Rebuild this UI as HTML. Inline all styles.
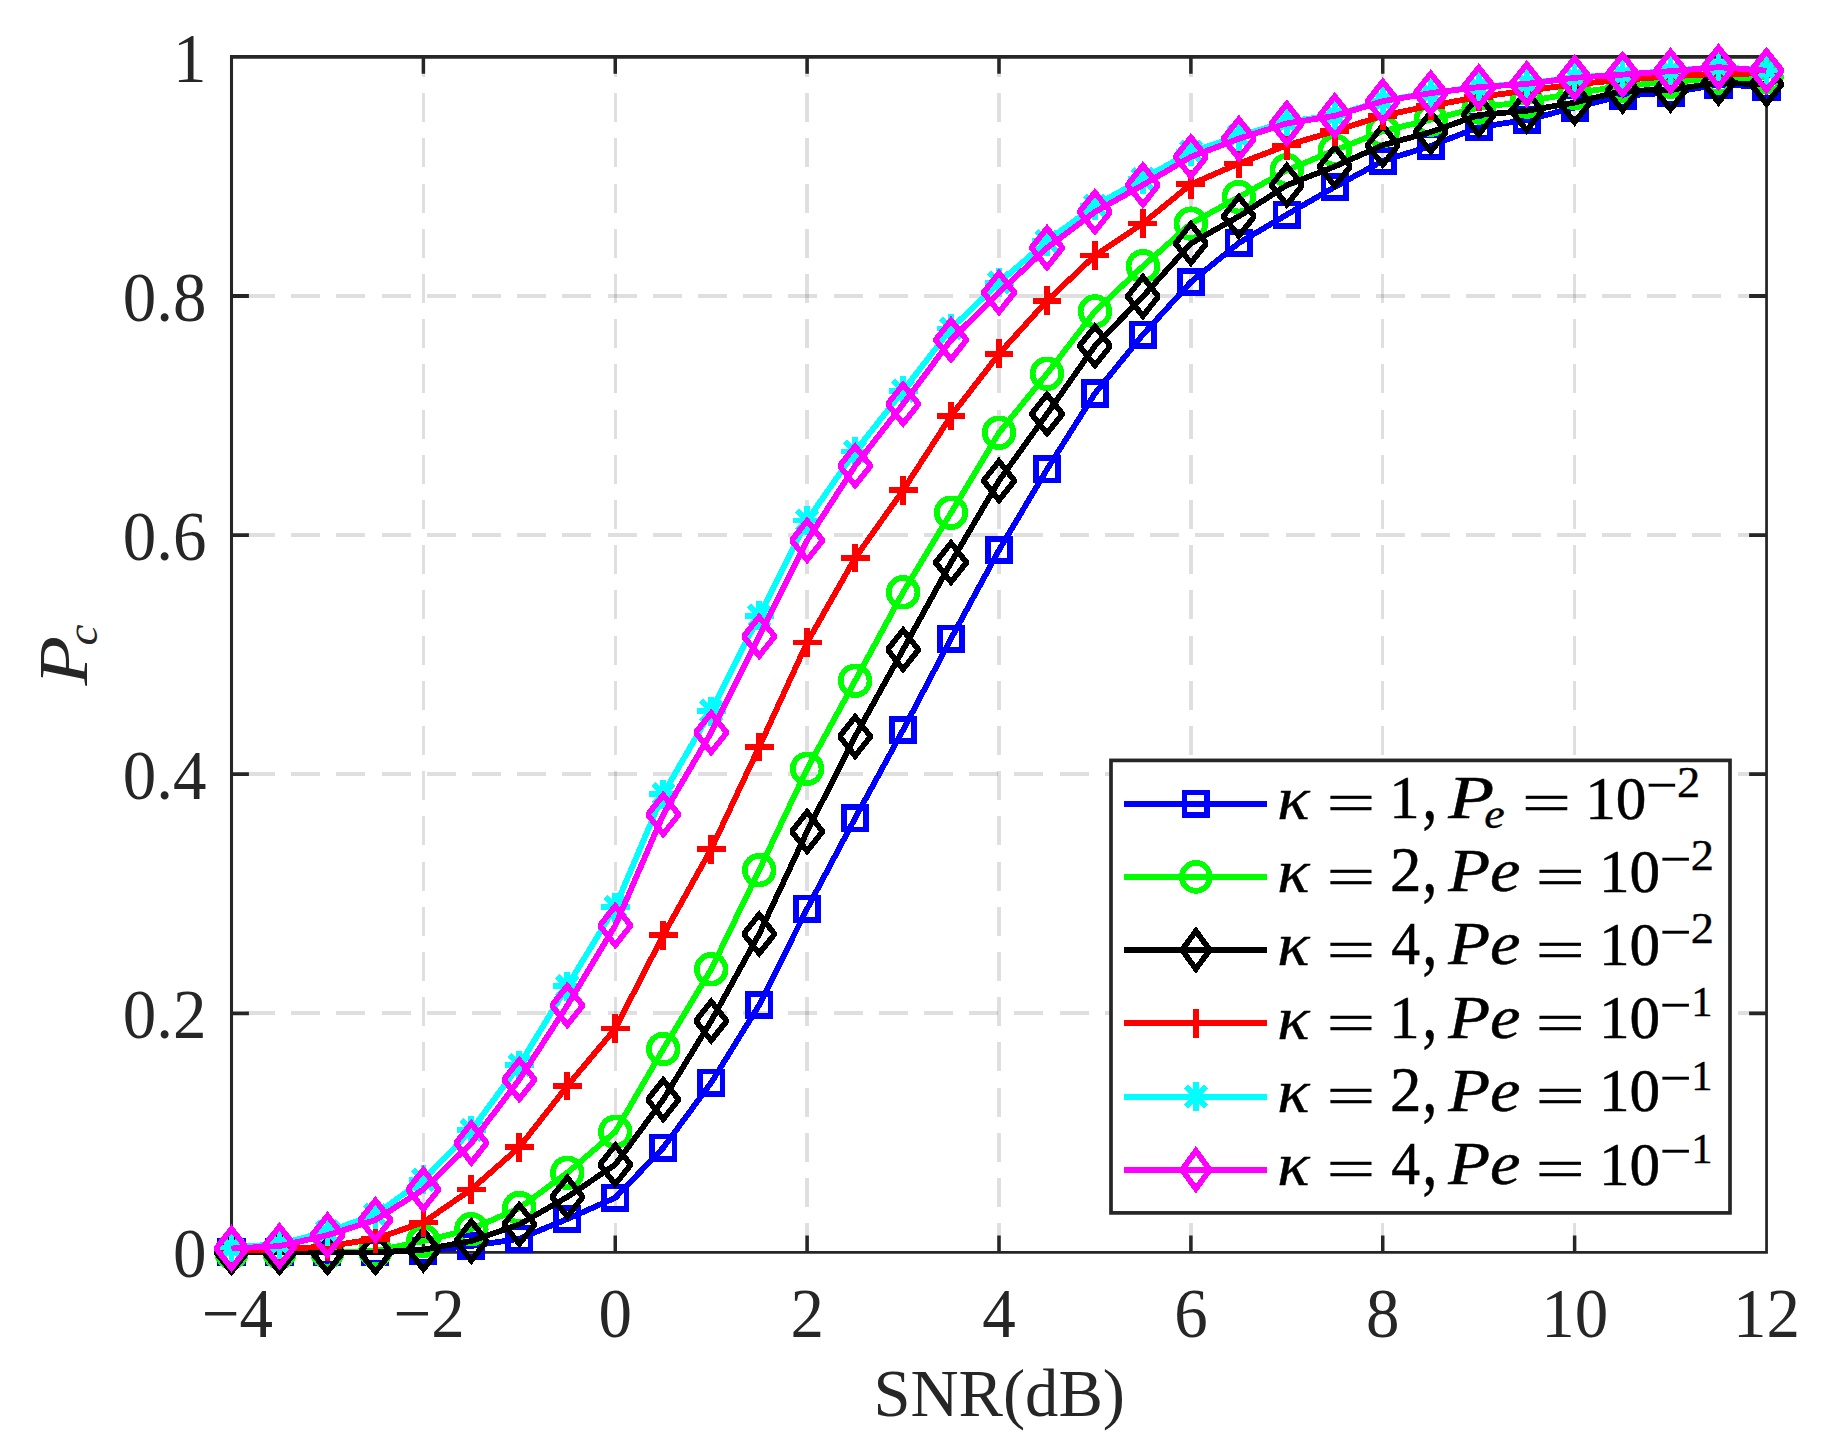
<!DOCTYPE html>
<html lang="en"><head><meta charset="utf-8"><title>Pc versus SNR</title>
<style>html,body{margin:0;padding:0;background:#fff}body{width:1826px;height:1451px;overflow:hidden}svg{display:block}.t{font-family:"Liberation Serif","DejaVu Serif",serif;fill:#262626}.m{font-family:"Liberation Serif","DejaVu Serif",serif;fill:#000}.i{font-style:italic}</style></head><body>
<svg width="1826" height="1451" viewBox="0 0 1826 1451">
<rect width="1826" height="1451" fill="#fff"/>
<g stroke="#262626" stroke-opacity="0.15" fill="none" stroke-dasharray="29 16.2" shape-rendering="crispEdges">
<line x1="423.38" y1="56.9" x2="423.38" y2="1252.4" stroke-width="3.3" stroke-dashoffset="8.9"/>
<line x1="615.25" y1="56.9" x2="615.25" y2="1252.4" stroke-width="3.3" stroke-dashoffset="8.9"/>
<line x1="807.12" y1="56.9" x2="807.12" y2="1252.4" stroke-width="3.3" stroke-dashoffset="8.9"/>
<line x1="999" y1="56.9" x2="999" y2="1252.4" stroke-width="3.3" stroke-dashoffset="8.9"/>
<line x1="1190.88" y1="56.9" x2="1190.88" y2="1252.4" stroke-width="3.3" stroke-dashoffset="8.9"/>
<line x1="1382.75" y1="56.9" x2="1382.75" y2="1252.4" stroke-width="3.3" stroke-dashoffset="8.9"/>
<line x1="1574.62" y1="56.9" x2="1574.62" y2="1252.4" stroke-width="3.3" stroke-dashoffset="8.9"/>
<line x1="231.5" y1="1013.3" x2="1766.5" y2="1013.3" stroke-width="3.7" stroke-dashoffset="30.7"/>
<line x1="231.5" y1="774.2" x2="1766.5" y2="774.2" stroke-width="3.7" stroke-dashoffset="30.7"/>
<line x1="231.5" y1="535.1" x2="1766.5" y2="535.1" stroke-width="3.7" stroke-dashoffset="30.7"/>
<line x1="231.5" y1="296" x2="1766.5" y2="296" stroke-width="3.7" stroke-dashoffset="30.7"/>
</g>
<g stroke="#262626" fill="none" stroke-linecap="butt">
<path d="M423.38 1252.4v-16.8M423.38 56.9v16.8M615.25 1252.4v-16.8M615.25 56.9v16.8M807.12 1252.4v-16.8M807.12 56.9v16.8M999 1252.4v-16.8M999 56.9v16.8M1190.88 1252.4v-16.8M1190.88 56.9v16.8M1382.75 1252.4v-16.8M1382.75 56.9v16.8M1574.62 1252.4v-16.8M1574.62 56.9v16.8" stroke-width="3.5"/>
<path d="M231.5 1013.3h17.400000000000002M1766.5 1013.3h-17.400000000000002M231.5 774.2h17.400000000000002M1766.5 774.2h-17.400000000000002M231.5 535.1h17.400000000000002M1766.5 535.1h-17.400000000000002M231.5 296h17.400000000000002M1766.5 296h-17.400000000000002" stroke-width="3.8"/>
<path d="M231.5 1252.4H1766.55V56.9" stroke-width="2.75" stroke-linejoin="miter"/>
<path d="M231.5 1253.8000000000002V56.9" stroke-width="3.07"/>
<path d="M229.97 56.9H1767.9" stroke-width="3.6"/>
</g>
<g stroke="#0000ff" fill="none" stroke-linejoin="round" shape-rendering="crispEdges">
<polyline points="231.5,1252.4 279.47,1252.4 327.44,1252.4 375.41,1252 423.38,1251 471.34,1246 519.31,1238.8 567.28,1219 615.25,1197.8 663.22,1147.8 711.19,1082.7 759.16,1005 807.12,908.7 855.09,818.2 903.06,730 951.03,638.6 999,550.1 1046.97,469.4 1094.94,393.5 1142.91,334.6 1190.88,282 1238.84,243 1286.81,214.6 1334.78,186.9 1382.75,160.9 1430.72,146 1478.69,127.1 1526.66,120 1574.62,107.5 1622.59,95.7 1670.56,92.6 1718.53,84.7 1766.5,86.6" stroke-width="5.8"/>
<g stroke-width="5.7" stroke-linejoin="miter">
<rect x="220.3" y="1241.2" width="22.4" height="22.4"/>
<rect x="268.27" y="1241.2" width="22.4" height="22.4"/>
<rect x="316.24" y="1241.2" width="22.4" height="22.4"/>
<rect x="364.21" y="1240.8" width="22.4" height="22.4"/>
<rect x="412.18" y="1239.8" width="22.4" height="22.4"/>
<rect x="460.14" y="1234.8" width="22.4" height="22.4"/>
<rect x="508.11" y="1227.6" width="22.4" height="22.4"/>
<rect x="556.08" y="1207.8" width="22.4" height="22.4"/>
<rect x="604.05" y="1186.6" width="22.4" height="22.4"/>
<rect x="652.02" y="1136.6" width="22.4" height="22.4"/>
<rect x="699.99" y="1071.5" width="22.4" height="22.4"/>
<rect x="747.96" y="993.8" width="22.4" height="22.4"/>
<rect x="795.92" y="897.5" width="22.4" height="22.4"/>
<rect x="843.89" y="807" width="22.4" height="22.4"/>
<rect x="891.86" y="718.8" width="22.4" height="22.4"/>
<rect x="939.83" y="627.4" width="22.4" height="22.4"/>
<rect x="987.8" y="538.9" width="22.4" height="22.4"/>
<rect x="1035.77" y="458.2" width="22.4" height="22.4"/>
<rect x="1083.74" y="382.3" width="22.4" height="22.4"/>
<rect x="1131.71" y="323.4" width="22.4" height="22.4"/>
<rect x="1179.67" y="270.8" width="22.4" height="22.4"/>
<rect x="1227.64" y="231.8" width="22.4" height="22.4"/>
<rect x="1275.61" y="203.4" width="22.4" height="22.4"/>
<rect x="1323.58" y="175.7" width="22.4" height="22.4"/>
<rect x="1371.55" y="149.7" width="22.4" height="22.4"/>
<rect x="1419.52" y="134.8" width="22.4" height="22.4"/>
<rect x="1467.49" y="115.9" width="22.4" height="22.4"/>
<rect x="1515.46" y="108.8" width="22.4" height="22.4"/>
<rect x="1563.42" y="96.3" width="22.4" height="22.4"/>
<rect x="1611.39" y="84.5" width="22.4" height="22.4"/>
<rect x="1659.36" y="81.4" width="22.4" height="22.4"/>
<rect x="1707.33" y="73.5" width="22.4" height="22.4"/>
<rect x="1755.3" y="75.4" width="22.4" height="22.4"/>
</g></g>
<g stroke="#00ff00" fill="none" stroke-linejoin="round" shape-rendering="crispEdges">
<polyline points="231.5,1252.4 279.47,1252.4 327.44,1252.2 375.41,1251 423.38,1241 471.34,1229.2 519.31,1208 567.28,1172.8 615.25,1131.8 663.22,1049 711.19,969.3 759.16,870.1 807.12,768.8 855.09,680.8 903.06,592.3 951.03,512.7 999,432.7 1046.97,373.7 1094.94,311.4 1142.91,266.3 1190.88,223.6 1238.84,197.1 1286.81,170.2 1334.78,150.4 1382.75,131.1 1430.72,119.7 1478.69,107.5 1526.66,101.6 1574.62,93.1 1622.59,86.1 1670.56,81.7 1718.53,78.2 1766.5,77.3" stroke-width="5.8"/>
<g stroke-width="5.7" stroke-linejoin="miter">
<circle cx="231.5" cy="1252.4" r="14.35"/>
<circle cx="279.47" cy="1252.4" r="14.35"/>
<circle cx="327.44" cy="1252.2" r="14.35"/>
<circle cx="375.41" cy="1251" r="14.35"/>
<circle cx="423.38" cy="1241" r="14.35"/>
<circle cx="471.34" cy="1229.2" r="14.35"/>
<circle cx="519.31" cy="1208" r="14.35"/>
<circle cx="567.28" cy="1172.8" r="14.35"/>
<circle cx="615.25" cy="1131.8" r="14.35"/>
<circle cx="663.22" cy="1049" r="14.35"/>
<circle cx="711.19" cy="969.3" r="14.35"/>
<circle cx="759.16" cy="870.1" r="14.35"/>
<circle cx="807.12" cy="768.8" r="14.35"/>
<circle cx="855.09" cy="680.8" r="14.35"/>
<circle cx="903.06" cy="592.3" r="14.35"/>
<circle cx="951.03" cy="512.7" r="14.35"/>
<circle cx="999" cy="432.7" r="14.35"/>
<circle cx="1046.97" cy="373.7" r="14.35"/>
<circle cx="1094.94" cy="311.4" r="14.35"/>
<circle cx="1142.91" cy="266.3" r="14.35"/>
<circle cx="1190.88" cy="223.6" r="14.35"/>
<circle cx="1238.84" cy="197.1" r="14.35"/>
<circle cx="1286.81" cy="170.2" r="14.35"/>
<circle cx="1334.78" cy="150.4" r="14.35"/>
<circle cx="1382.75" cy="131.1" r="14.35"/>
<circle cx="1430.72" cy="119.7" r="14.35"/>
<circle cx="1478.69" cy="107.5" r="14.35"/>
<circle cx="1526.66" cy="101.6" r="14.35"/>
<circle cx="1574.62" cy="93.1" r="14.35"/>
<circle cx="1622.59" cy="86.1" r="14.35"/>
<circle cx="1670.56" cy="81.7" r="14.35"/>
<circle cx="1718.53" cy="78.2" r="14.35"/>
<circle cx="1766.5" cy="77.3" r="14.35"/>
</g></g>
<g stroke="#000000" fill="none" stroke-linejoin="round" shape-rendering="crispEdges">
<polyline points="231.5,1252.4 279.47,1252.4 327.44,1252.4 375.41,1252.4 423.38,1249.7 471.34,1241 519.31,1224.4 567.28,1197 615.25,1164.7 663.22,1099.6 711.19,1021 759.16,934 807.12,831.5 855.09,736.5 903.06,649.7 951.03,562.5 999,480.7 1046.97,414 1094.94,345.9 1142.91,296.5 1190.88,243.4 1238.84,216.4 1286.81,185.2 1334.78,166.5 1382.75,145.2 1430.72,132 1478.69,115 1526.66,110.8 1574.62,102.6 1622.59,90.9 1670.56,89.8 1718.53,82.8 1766.5,84.3" stroke-width="5.8"/>
<g stroke-width="5.7" stroke-linejoin="miter">
<path d="M231.5 1232.9L246.2 1251.4V1253.4L231.5 1271.9L216.8 1253.4V1251.4Z"/>
<path d="M279.47 1232.9L294.17 1251.4V1253.4L279.47 1271.9L264.77 1253.4V1251.4Z"/>
<path d="M327.44 1232.9L342.14 1251.4V1253.4L327.44 1271.9L312.74 1253.4V1251.4Z"/>
<path d="M375.41 1232.9L390.11 1251.4V1253.4L375.41 1271.9L360.71 1253.4V1251.4Z"/>
<path d="M423.38 1230.2L438.07 1248.7V1250.7L423.38 1269.2L408.68 1250.7V1248.7Z"/>
<path d="M471.34 1221.5L486.04 1240V1242L471.34 1260.5L456.64 1242V1240Z"/>
<path d="M519.31 1204.9L534.01 1223.4V1225.4L519.31 1243.9L504.61 1225.4V1223.4Z"/>
<path d="M567.28 1177.5L581.98 1196V1198L567.28 1216.5L552.58 1198V1196Z"/>
<path d="M615.25 1145.2L629.95 1163.7V1165.7L615.25 1184.2L600.55 1165.7V1163.7Z"/>
<path d="M663.22 1080.1L677.92 1098.6V1100.6L663.22 1119.1L648.52 1100.6V1098.6Z"/>
<path d="M711.19 1001.5L725.89 1020V1022L711.19 1040.5L696.49 1022V1020Z"/>
<path d="M759.16 914.5L773.86 933V935L759.16 953.5L744.46 935V933Z"/>
<path d="M807.12 812L821.83 830.5V832.5L807.12 851L792.42 832.5V830.5Z"/>
<path d="M855.09 717L869.79 735.5V737.5L855.09 756L840.39 737.5V735.5Z"/>
<path d="M903.06 630.2L917.76 648.7V650.7L903.06 669.2L888.36 650.7V648.7Z"/>
<path d="M951.03 543L965.73 561.5V563.5L951.03 582L936.33 563.5V561.5Z"/>
<path d="M999 461.2L1013.7 479.7V481.7L999 500.2L984.3 481.7V479.7Z"/>
<path d="M1046.97 394.5L1061.67 413V415L1046.97 433.5L1032.27 415V413Z"/>
<path d="M1094.94 326.4L1109.64 344.9V346.9L1094.94 365.4L1080.24 346.9V344.9Z"/>
<path d="M1142.91 277L1157.61 295.5V297.5L1142.91 316L1128.21 297.5V295.5Z"/>
<path d="M1190.88 223.9L1205.58 242.4V244.4L1190.88 262.9L1176.17 244.4V242.4Z"/>
<path d="M1238.84 196.9L1253.54 215.4V217.4L1238.84 235.9L1224.14 217.4V215.4Z"/>
<path d="M1286.81 165.7L1301.51 184.2V186.2L1286.81 204.7L1272.11 186.2V184.2Z"/>
<path d="M1334.78 147L1349.48 165.5V167.5L1334.78 186L1320.08 167.5V165.5Z"/>
<path d="M1382.75 125.7L1397.45 144.2V146.2L1382.75 164.7L1368.05 146.2V144.2Z"/>
<path d="M1430.72 112.5L1445.42 131V133L1430.72 151.5L1416.02 133V131Z"/>
<path d="M1478.69 95.5L1493.39 114V116L1478.69 134.5L1463.99 116V114Z"/>
<path d="M1526.66 91.3L1541.36 109.8V111.8L1526.66 130.3L1511.96 111.8V109.8Z"/>
<path d="M1574.62 83.1L1589.33 101.6V103.6L1574.62 122.1L1559.92 103.6V101.6Z"/>
<path d="M1622.59 71.4L1637.29 89.9V91.9L1622.59 110.4L1607.89 91.9V89.9Z"/>
<path d="M1670.56 70.3L1685.26 88.8V90.8L1670.56 109.3L1655.86 90.8V88.8Z"/>
<path d="M1718.53 63.3L1733.23 81.8V83.8L1718.53 102.3L1703.83 83.8V81.8Z"/>
<path d="M1766.5 64.8L1781.2 83.3V85.3L1766.5 103.8L1751.8 85.3V83.3Z"/>
</g></g>
<g stroke="#ff0000" fill="none" stroke-linejoin="round" shape-rendering="crispEdges">
<polyline points="231.5,1251.2 279.47,1249.4 327.44,1246.4 375.41,1238.8 423.38,1222.4 471.34,1189.4 519.31,1147.2 567.28,1086 615.25,1028.6 663.22,935.2 711.19,849.1 759.16,747 807.12,642.5 855.09,558 903.06,490.3 951.03,416 999,353.9 1046.97,300.8 1094.94,255.5 1142.91,223.4 1190.88,184.3 1238.84,163.5 1286.81,145.4 1334.78,131.1 1382.75,115.7 1430.72,105.7 1478.69,97 1526.66,90.7 1574.62,84.3 1622.59,79.9 1670.56,76.4 1718.53,73.8 1766.5,73.5" stroke-width="5.8"/>
<g stroke-width="5.7" stroke-linejoin="miter">
<path d="M217.05 1251.2H245.95M231.5 1236.75V1265.65"/>
<path d="M265.02 1249.4H293.92M279.47 1234.95V1263.85"/>
<path d="M312.99 1246.4H341.89M327.44 1231.95V1260.85"/>
<path d="M360.96 1238.8H389.86M375.41 1224.35V1253.25"/>
<path d="M408.93 1222.4H437.82M423.38 1207.95V1236.85"/>
<path d="M456.89 1189.4H485.79M471.34 1174.95V1203.85"/>
<path d="M504.86 1147.2H533.76M519.31 1132.75V1161.65"/>
<path d="M552.83 1086H581.73M567.28 1071.55V1100.45"/>
<path d="M600.8 1028.6H629.7M615.25 1014.15V1043.05"/>
<path d="M648.77 935.2H677.67M663.22 920.75V949.65"/>
<path d="M696.74 849.1H725.64M711.19 834.65V863.55"/>
<path d="M744.71 747H773.61M759.16 732.55V761.45"/>
<path d="M792.67 642.5H821.58M807.12 628.05V656.95"/>
<path d="M840.64 558H869.54M855.09 543.55V572.45"/>
<path d="M888.61 490.3H917.51M903.06 475.85V504.75"/>
<path d="M936.58 416H965.48M951.03 401.55V430.45"/>
<path d="M984.55 353.9H1013.45M999 339.45V368.35"/>
<path d="M1032.52 300.8H1061.42M1046.97 286.35V315.25"/>
<path d="M1080.49 255.5H1109.39M1094.94 241.05V269.95"/>
<path d="M1128.46 223.4H1157.36M1142.91 208.95V237.85"/>
<path d="M1176.42 184.3H1205.33M1190.88 169.85V198.75"/>
<path d="M1224.39 163.5H1253.29M1238.84 149.05V177.95"/>
<path d="M1272.36 145.4H1301.26M1286.81 130.95V159.85"/>
<path d="M1320.33 131.1H1349.23M1334.78 116.65V145.55"/>
<path d="M1368.3 115.7H1397.2M1382.75 101.25V130.15"/>
<path d="M1416.27 105.7H1445.17M1430.72 91.25V120.15"/>
<path d="M1464.24 97H1493.14M1478.69 82.55V111.45"/>
<path d="M1512.21 90.7H1541.11M1526.66 76.25V105.15"/>
<path d="M1560.17 84.3H1589.08M1574.62 69.85V98.75"/>
<path d="M1608.14 79.9H1637.04M1622.59 65.45V94.35"/>
<path d="M1656.11 76.4H1685.01M1670.56 61.95V90.85"/>
<path d="M1704.08 73.8H1732.98M1718.53 59.35V88.25"/>
<path d="M1752.05 73.5H1780.95M1766.5 59.05V87.95"/>
</g></g>
<g stroke="#00ffff" fill="none" stroke-linejoin="round" shape-rendering="crispEdges">
<polyline points="231.5,1247.5 279.47,1244 327.44,1231.6 375.41,1214.7 423.38,1179.7 471.34,1130.3 519.31,1065 567.28,986.3 615.25,907 663.22,794 711.19,711 759.16,615.9 807.12,520.5 855.09,451.5 903.06,390.8 951.03,328.6 999,282.7 1046.97,241.2 1094.94,205.5 1142.91,179 1190.88,151.7 1238.84,136.1 1286.81,121.6 1334.78,115.3 1382.75,100.4 1430.72,93 1478.69,86.8 1526.66,83.5 1574.62,77.4 1622.59,74.5 1670.56,70.9 1718.53,66.9 1766.5,70.4" stroke-width="5.8"/>
<g stroke-width="5.7" stroke-linejoin="miter">
<path d="M217 1247.5H246M231.5 1233V1262M221.4 1237.4L241.6 1257.6M221.4 1257.6L241.6 1237.4"/>
<path d="M264.97 1244H293.97M279.47 1229.5V1258.5M269.37 1233.9L289.57 1254.1M269.37 1254.1L289.57 1233.9"/>
<path d="M312.94 1231.6H341.94M327.44 1217.1V1246.1M317.34 1221.5L337.54 1241.7M317.34 1241.7L337.54 1221.5"/>
<path d="M360.91 1214.7H389.91M375.41 1200.2V1229.2M365.31 1204.6L385.51 1224.8M365.31 1224.8L385.51 1204.6"/>
<path d="M408.88 1179.7H437.88M423.38 1165.2V1194.2M413.27 1169.6L433.48 1189.8M413.27 1189.8L433.48 1169.6"/>
<path d="M456.84 1130.3H485.84M471.34 1115.8V1144.8M461.24 1120.2L481.44 1140.4M461.24 1140.4L481.44 1120.2"/>
<path d="M504.81 1065H533.81M519.31 1050.5V1079.5M509.21 1054.9L529.41 1075.1M509.21 1075.1L529.41 1054.9"/>
<path d="M552.78 986.3H581.78M567.28 971.8V1000.8M557.18 976.2L577.38 996.4M557.18 996.4L577.38 976.2"/>
<path d="M600.75 907H629.75M615.25 892.5V921.5M605.15 896.9L625.35 917.1M605.15 917.1L625.35 896.9"/>
<path d="M648.72 794H677.72M663.22 779.5V808.5M653.12 783.9L673.32 804.1M653.12 804.1L673.32 783.9"/>
<path d="M696.69 711H725.69M711.19 696.5V725.5M701.09 700.9L721.29 721.1M701.09 721.1L721.29 700.9"/>
<path d="M744.66 615.9H773.66M759.16 601.4V630.4M749.06 605.8L769.26 626M749.06 626L769.26 605.8"/>
<path d="M792.62 520.5H821.62M807.12 506V535M797.02 510.4L817.23 530.6M797.02 530.6L817.23 510.4"/>
<path d="M840.59 451.5H869.59M855.09 437V466M844.99 441.4L865.19 461.6M844.99 461.6L865.19 441.4"/>
<path d="M888.56 390.8H917.56M903.06 376.3V405.3M892.96 380.7L913.16 400.9M892.96 400.9L913.16 380.7"/>
<path d="M936.53 328.6H965.53M951.03 314.1V343.1M940.93 318.5L961.13 338.7M940.93 338.7L961.13 318.5"/>
<path d="M984.5 282.7H1013.5M999 268.2V297.2M988.9 272.6L1009.1 292.8M988.9 292.8L1009.1 272.6"/>
<path d="M1032.47 241.2H1061.47M1046.97 226.7V255.7M1036.87 231.1L1057.07 251.3M1036.87 251.3L1057.07 231.1"/>
<path d="M1080.44 205.5H1109.44M1094.94 191V220M1084.84 195.4L1105.04 215.6M1084.84 215.6L1105.04 195.4"/>
<path d="M1128.41 179H1157.41M1142.91 164.5V193.5M1132.81 168.9L1153.01 189.1M1132.81 189.1L1153.01 168.9"/>
<path d="M1176.38 151.7H1205.38M1190.88 137.2V166.2M1180.78 141.6L1200.97 161.8M1180.78 161.8L1200.97 141.6"/>
<path d="M1224.34 136.1H1253.34M1238.84 121.6V150.6M1228.74 126L1248.94 146.2M1228.74 146.2L1248.94 126"/>
<path d="M1272.31 121.6H1301.31M1286.81 107.1V136.1M1276.71 111.5L1296.91 131.7M1276.71 131.7L1296.91 111.5"/>
<path d="M1320.28 115.3H1349.28M1334.78 100.8V129.8M1324.68 105.2L1344.88 125.4M1324.68 125.4L1344.88 105.2"/>
<path d="M1368.25 100.4H1397.25M1382.75 85.9V114.9M1372.65 90.3L1392.85 110.5M1372.65 110.5L1392.85 90.3"/>
<path d="M1416.22 93H1445.22M1430.72 78.5V107.5M1420.62 82.9L1440.82 103.1M1420.62 103.1L1440.82 82.9"/>
<path d="M1464.19 86.8H1493.19M1478.69 72.3V101.3M1468.59 76.7L1488.79 96.9M1468.59 96.9L1488.79 76.7"/>
<path d="M1512.16 83.5H1541.16M1526.66 69V98M1516.56 73.4L1536.76 93.6M1516.56 93.6L1536.76 73.4"/>
<path d="M1560.12 77.4H1589.12M1574.62 62.9V91.9M1564.53 67.3L1584.72 87.5M1564.53 87.5L1584.72 67.3"/>
<path d="M1608.09 74.5H1637.09M1622.59 60V89M1612.49 64.4L1632.69 84.6M1612.49 84.6L1632.69 64.4"/>
<path d="M1656.06 70.9H1685.06M1670.56 56.4V85.4M1660.46 60.8L1680.66 81M1660.46 81L1680.66 60.8"/>
<path d="M1704.03 66.9H1733.03M1718.53 52.4V81.4M1708.43 56.8L1728.63 77M1708.43 77L1728.63 56.8"/>
<path d="M1752 70.4H1781M1766.5 55.9V84.9M1756.4 60.3L1776.6 80.5M1756.4 80.5L1776.6 60.3"/>
</g></g>
<g stroke="#ff00ff" fill="none" stroke-linejoin="round" shape-rendering="crispEdges">
<polyline points="231.5,1248.5 279.47,1246.1 327.44,1235.2 375.41,1220 423.38,1189.4 471.34,1143 519.31,1079.6 567.28,1005.5 615.25,925.6 663.22,814.6 711.19,732.6 759.16,636.4 807.12,540.4 855.09,465.9 903.06,404.1 951.03,339.9 999,292.5 1046.97,247.8 1094.94,211.9 1142.91,185 1190.88,156.9 1238.84,138.7 1286.81,123.4 1334.78,115.9 1382.75,101.2 1430.72,93.1 1478.69,87.1 1526.66,83.9 1574.62,77.8 1622.59,74.6 1670.56,71.2 1718.53,67.2 1766.5,70.7" stroke-width="5.8"/>
<g stroke-width="5.7" stroke-linejoin="miter">
<path d="M231.5 1229L246.2 1247.5V1249.5L231.5 1268L216.8 1249.5V1247.5Z"/>
<path d="M279.47 1226.6L294.17 1245.1V1247.1L279.47 1265.6L264.77 1247.1V1245.1Z"/>
<path d="M327.44 1215.7L342.14 1234.2V1236.2L327.44 1254.7L312.74 1236.2V1234.2Z"/>
<path d="M375.41 1200.5L390.11 1219V1221L375.41 1239.5L360.71 1221V1219Z"/>
<path d="M423.38 1169.9L438.07 1188.4V1190.4L423.38 1208.9L408.68 1190.4V1188.4Z"/>
<path d="M471.34 1123.5L486.04 1142V1144L471.34 1162.5L456.64 1144V1142Z"/>
<path d="M519.31 1060.1L534.01 1078.6V1080.6L519.31 1099.1L504.61 1080.6V1078.6Z"/>
<path d="M567.28 986L581.98 1004.5V1006.5L567.28 1025L552.58 1006.5V1004.5Z"/>
<path d="M615.25 906.1L629.95 924.6V926.6L615.25 945.1L600.55 926.6V924.6Z"/>
<path d="M663.22 795.1L677.92 813.6V815.6L663.22 834.1L648.52 815.6V813.6Z"/>
<path d="M711.19 713.1L725.89 731.6V733.6L711.19 752.1L696.49 733.6V731.6Z"/>
<path d="M759.16 616.9L773.86 635.4V637.4L759.16 655.9L744.46 637.4V635.4Z"/>
<path d="M807.12 520.9L821.83 539.4V541.4L807.12 559.9L792.42 541.4V539.4Z"/>
<path d="M855.09 446.4L869.79 464.9V466.9L855.09 485.4L840.39 466.9V464.9Z"/>
<path d="M903.06 384.6L917.76 403.1V405.1L903.06 423.6L888.36 405.1V403.1Z"/>
<path d="M951.03 320.4L965.73 338.9V340.9L951.03 359.4L936.33 340.9V338.9Z"/>
<path d="M999 273L1013.7 291.5V293.5L999 312L984.3 293.5V291.5Z"/>
<path d="M1046.97 228.3L1061.67 246.8V248.8L1046.97 267.3L1032.27 248.8V246.8Z"/>
<path d="M1094.94 192.4L1109.64 210.9V212.9L1094.94 231.4L1080.24 212.9V210.9Z"/>
<path d="M1142.91 165.5L1157.61 184V186L1142.91 204.5L1128.21 186V184Z"/>
<path d="M1190.88 137.4L1205.58 155.9V157.9L1190.88 176.4L1176.17 157.9V155.9Z"/>
<path d="M1238.84 119.2L1253.54 137.7V139.7L1238.84 158.2L1224.14 139.7V137.7Z"/>
<path d="M1286.81 103.9L1301.51 122.4V124.4L1286.81 142.9L1272.11 124.4V122.4Z"/>
<path d="M1334.78 96.4L1349.48 114.9V116.9L1334.78 135.4L1320.08 116.9V114.9Z"/>
<path d="M1382.75 81.7L1397.45 100.2V102.2L1382.75 120.7L1368.05 102.2V100.2Z"/>
<path d="M1430.72 73.6L1445.42 92.1V94.1L1430.72 112.6L1416.02 94.1V92.1Z"/>
<path d="M1478.69 67.6L1493.39 86.1V88.1L1478.69 106.6L1463.99 88.1V86.1Z"/>
<path d="M1526.66 64.4L1541.36 82.9V84.9L1526.66 103.4L1511.96 84.9V82.9Z"/>
<path d="M1574.62 58.3L1589.33 76.8V78.8L1574.62 97.3L1559.92 78.8V76.8Z"/>
<path d="M1622.59 55.1L1637.29 73.6V75.6L1622.59 94.1L1607.89 75.6V73.6Z"/>
<path d="M1670.56 51.7L1685.26 70.2V72.2L1670.56 90.7L1655.86 72.2V70.2Z"/>
<path d="M1718.53 47.7L1733.23 66.2V68.2L1718.53 86.7L1703.83 68.2V66.2Z"/>
<path d="M1766.5 51.2L1781.2 69.7V71.7L1766.5 90.2L1751.8 71.7V69.7Z"/>
</g></g>
<g class="t" font-size="67">
<text transform="translate(237.3 1336.6) scale(1 1.045)" text-anchor="middle">−4</text>
<text transform="translate(429.18 1336.6) scale(1 1.045)" text-anchor="middle">−2</text>
<text transform="translate(615.25 1336.6) scale(1 1.045)" text-anchor="middle">0</text>
<text transform="translate(807.12 1336.6) scale(1 1.045)" text-anchor="middle">2</text>
<text transform="translate(999 1336.6) scale(1 1.045)" text-anchor="middle">4</text>
<text transform="translate(1190.88 1336.6) scale(1 1.045)" text-anchor="middle">6</text>
<text transform="translate(1382.75 1336.6) scale(1 1.045)" text-anchor="middle">8</text>
<text transform="translate(1574.62 1336.6) scale(1 1.045)" text-anchor="middle">10</text>
<text transform="translate(1766.5 1336.6) scale(1 1.045)" text-anchor="middle">12</text>
<text transform="translate(206.4 1277.4) scale(1 1.045)" text-anchor="end">0</text>
<text transform="translate(206.4 1038.3) scale(1 1.045)" text-anchor="end">0.2</text>
<text transform="translate(206.4 799.2) scale(1 1.045)" text-anchor="end">0.4</text>
<text transform="translate(206.4 560.1) scale(1 1.045)" text-anchor="end">0.6</text>
<text transform="translate(206.4 321) scale(1 1.045)" text-anchor="end">0.8</text>
<text transform="translate(206.4 81.9) scale(1 1.045)" text-anchor="end">1</text>
<text x="999.2" y="1416.1" text-anchor="middle" font-size="66.6">SNR(dB)</text>
</g>
<g transform="rotate(-90)"><text class="t i" font-size="68" transform="matrix(1.197 0 0 1.035 -685.463 86.8)">P</text><text class="t i" font-size="46" transform="matrix(1.027 0 0 0.963 -645.453 96.868)">c</text></g>
<rect x="1111" y="760.4" width="619" height="452.5" fill="#fff" stroke="#262626" stroke-width="3.7"/>
<g stroke="#0000ff" fill="none" shape-rendering="crispEdges"><line x1="1124" y1="803.8" x2="1267" y2="803.8" stroke-width="5.9"/><g stroke-width="5.7"><rect x="1184.55" y="792.45" width="22.7" height="22.7"/></g></g>
<g stroke="#00ff00" fill="none" shape-rendering="crispEdges"><line x1="1124" y1="876.9" x2="1267" y2="876.9" stroke-width="5.9"/><g stroke-width="5.7"><circle cx="1195.9" cy="876.9" r="13.95"/></g></g>
<g stroke="#000000" fill="none" shape-rendering="crispEdges"><line x1="1124" y1="950.0" x2="1267" y2="950.0" stroke-width="5.9"/><g stroke-width="5.7"><path d="M1195.9 931L1209.1 949.1V950.9L1195.9 969L1182.7 950.9V949.1Z"/></g></g>
<g stroke="#ff0000" fill="none" shape-rendering="crispEdges"><line x1="1124" y1="1023.4" x2="1267" y2="1023.4" stroke-width="5.9"/><g stroke-width="5.7"><path d="M1181.45 1023.4H1210.35M1195.9 1008.95V1037.85"/></g></g>
<g stroke="#00ffff" fill="none" shape-rendering="crispEdges"><line x1="1124" y1="1096.6" x2="1267" y2="1096.6" stroke-width="5.9"/><g stroke-width="5.7"><path d="M1181.4 1096.6H1210.4M1195.9 1082.1V1111.1M1185.8 1086.5L1206 1106.7M1185.8 1106.7L1206 1086.5"/></g></g>
<g stroke="#ff00ff" fill="none" shape-rendering="crispEdges"><line x1="1124" y1="1169.8" x2="1267" y2="1169.8" stroke-width="5.9"/><g stroke-width="5.7"><path d="M1195.9 1150.8L1209.1 1168.9V1170.7L1195.9 1188.8L1182.7 1170.7V1168.9Z"/></g></g>
<g><text class="m i" font-size="61" stroke="#000" stroke-width="0.5" transform="matrix(1.101 0 0 1.004 1277.34 819)">κ</text><text class="m" font-size="61" stroke="#000" stroke-width="0.5" transform="matrix(1.42 0 0 0.951 1326.487 822.408)">=</text><text class="m" font-size="61" stroke="#000" stroke-width="0.5" transform="matrix(0.997 0 0 1.001 1389.357 818.2)">1</text><text class="m" font-size="61" stroke="#000" stroke-width="0.5" transform="matrix(0.969 0 0 1.232 1422.45 818.742)">,</text><text class="m i" font-size="61" stroke="#000" stroke-width="0.5" transform="matrix(1.232 0 0 1.021 1448.304 818.2)">P</text><text class="m i" font-size="42" stroke="#000" stroke-width="0.4" transform="matrix(1.097 0 0 0.995 1484.283 827.592)">e</text><text class="m" font-size="61" stroke="#000" stroke-width="0.5" transform="matrix(1.437 0 0 0.951 1521.833 822.408)">=</text><text class="m" font-size="61" stroke="#000" stroke-width="0.5" transform="matrix(1.005 0 0 1.018 1585.21 818.594)">10</text><text class="m" font-size="43" transform="matrix(1.329 0 0 1.401 1645.753 805.4)">−</text><text class="m" font-size="43" stroke="#000" stroke-width="0.4" transform="matrix(1.079 0 0 1.015 1676.961 796.7)">2</text></g>
<g><text class="m i" font-size="61" stroke="#000" stroke-width="0.5" transform="matrix(1.101 0 0 1.004 1277.34 892.1)">κ</text><text class="m" font-size="61" stroke="#000" stroke-width="0.5" transform="matrix(1.42 0 0 0.951 1326.487 895.508)">=</text><text class="m" font-size="61" stroke="#000" stroke-width="0.5" transform="matrix(1.031 0 0 1.023 1390.038 891.3)">2</text><text class="m" font-size="61" stroke="#000" stroke-width="0.5" transform="matrix(0.969 0 0 1.232 1422.45 891.842)">,</text><text class="m i" font-size="61" stroke="#000" stroke-width="0.5" transform="matrix(1.123 0 0 1.021 1448.268 891.292)">Pe</text><text class="m" font-size="61" stroke="#000" stroke-width="0.5" transform="matrix(1.437 0 0 0.951 1535.533 895.508)">=</text><text class="m" font-size="61" stroke="#000" stroke-width="0.5" transform="matrix(1.005 0 0 1.018 1598.91 891.694)">10</text><text class="m" font-size="43" transform="matrix(1.329 0 0 1.401 1659.453 878.5)">−</text><text class="m" font-size="43" stroke="#000" stroke-width="0.4" transform="matrix(1.079 0 0 1.015 1690.661 869.8)">2</text></g>
<g><text class="m i" font-size="61" stroke="#000" stroke-width="0.5" transform="matrix(1.101 0 0 1.004 1277.34 965.2)">κ</text><text class="m" font-size="61" stroke="#000" stroke-width="0.5" transform="matrix(1.42 0 0 0.951 1326.487 968.608)">=</text><text class="m" font-size="61" stroke="#000" stroke-width="0.5" transform="matrix(0.945 0 0 1.021 1391.374 964.4)">4</text><text class="m" font-size="61" stroke="#000" stroke-width="0.5" transform="matrix(0.969 0 0 1.232 1422.45 964.942)">,</text><text class="m i" font-size="61" stroke="#000" stroke-width="0.5" transform="matrix(1.123 0 0 1.021 1448.268 964.392)">Pe</text><text class="m" font-size="61" stroke="#000" stroke-width="0.5" transform="matrix(1.437 0 0 0.951 1535.533 968.608)">=</text><text class="m" font-size="61" stroke="#000" stroke-width="0.5" transform="matrix(1.005 0 0 1.018 1598.91 964.794)">10</text><text class="m" font-size="43" transform="matrix(1.329 0 0 1.401 1659.453 951.6)">−</text><text class="m" font-size="43" stroke="#000" stroke-width="0.4" transform="matrix(1.079 0 0 1.015 1690.661 942.9)">2</text></g>
<g><text class="m i" font-size="61" stroke="#000" stroke-width="0.5" transform="matrix(1.101 0 0 1.004 1277.34 1038.6)">κ</text><text class="m" font-size="61" stroke="#000" stroke-width="0.5" transform="matrix(1.42 0 0 0.951 1326.487 1042.008)">=</text><text class="m" font-size="61" stroke="#000" stroke-width="0.5" transform="matrix(0.997 0 0 1.001 1389.357 1037.8)">1</text><text class="m" font-size="61" stroke="#000" stroke-width="0.5" transform="matrix(0.969 0 0 1.232 1422.45 1038.342)">,</text><text class="m i" font-size="61" stroke="#000" stroke-width="0.5" transform="matrix(1.123 0 0 1.021 1448.268 1037.792)">Pe</text><text class="m" font-size="61" stroke="#000" stroke-width="0.5" transform="matrix(1.437 0 0 0.951 1535.533 1042.008)">=</text><text class="m" font-size="61" stroke="#000" stroke-width="0.5" transform="matrix(1.005 0 0 1.018 1598.91 1038.194)">10</text><text class="m" font-size="43" transform="matrix(1.329 0 0 1.401 1659.453 1025)">−</text><text class="m" font-size="43" stroke="#000" stroke-width="0.4" transform="matrix(0.991 0 0 1.004 1691.255 1016.3)">1</text></g>
<g><text class="m i" font-size="61" stroke="#000" stroke-width="0.5" transform="matrix(1.101 0 0 1.004 1277.34 1111.8)">κ</text><text class="m" font-size="61" stroke="#000" stroke-width="0.5" transform="matrix(1.42 0 0 0.951 1326.487 1115.208)">=</text><text class="m" font-size="61" stroke="#000" stroke-width="0.5" transform="matrix(1.031 0 0 1.023 1390.038 1111)">2</text><text class="m" font-size="61" stroke="#000" stroke-width="0.5" transform="matrix(0.969 0 0 1.232 1422.45 1111.542)">,</text><text class="m i" font-size="61" stroke="#000" stroke-width="0.5" transform="matrix(1.123 0 0 1.021 1448.268 1110.992)">Pe</text><text class="m" font-size="61" stroke="#000" stroke-width="0.5" transform="matrix(1.437 0 0 0.951 1535.533 1115.208)">=</text><text class="m" font-size="61" stroke="#000" stroke-width="0.5" transform="matrix(1.005 0 0 1.018 1598.91 1111.394)">10</text><text class="m" font-size="43" transform="matrix(1.329 0 0 1.401 1659.453 1098.2)">−</text><text class="m" font-size="43" stroke="#000" stroke-width="0.4" transform="matrix(0.991 0 0 1.004 1691.255 1089.5)">1</text></g>
<g><text class="m i" font-size="61" stroke="#000" stroke-width="0.5" transform="matrix(1.101 0 0 1.004 1277.34 1185)">κ</text><text class="m" font-size="61" stroke="#000" stroke-width="0.5" transform="matrix(1.42 0 0 0.951 1326.487 1188.408)">=</text><text class="m" font-size="61" stroke="#000" stroke-width="0.5" transform="matrix(0.945 0 0 1.021 1391.374 1184.2)">4</text><text class="m" font-size="61" stroke="#000" stroke-width="0.5" transform="matrix(0.969 0 0 1.232 1422.45 1184.742)">,</text><text class="m i" font-size="61" stroke="#000" stroke-width="0.5" transform="matrix(1.123 0 0 1.021 1448.268 1184.192)">Pe</text><text class="m" font-size="61" stroke="#000" stroke-width="0.5" transform="matrix(1.437 0 0 0.951 1535.533 1188.408)">=</text><text class="m" font-size="61" stroke="#000" stroke-width="0.5" transform="matrix(1.005 0 0 1.018 1598.91 1184.594)">10</text><text class="m" font-size="43" transform="matrix(1.329 0 0 1.401 1659.453 1171.4)">−</text><text class="m" font-size="43" stroke="#000" stroke-width="0.4" transform="matrix(0.991 0 0 1.004 1691.255 1162.7)">1</text></g>
</svg></body></html>
